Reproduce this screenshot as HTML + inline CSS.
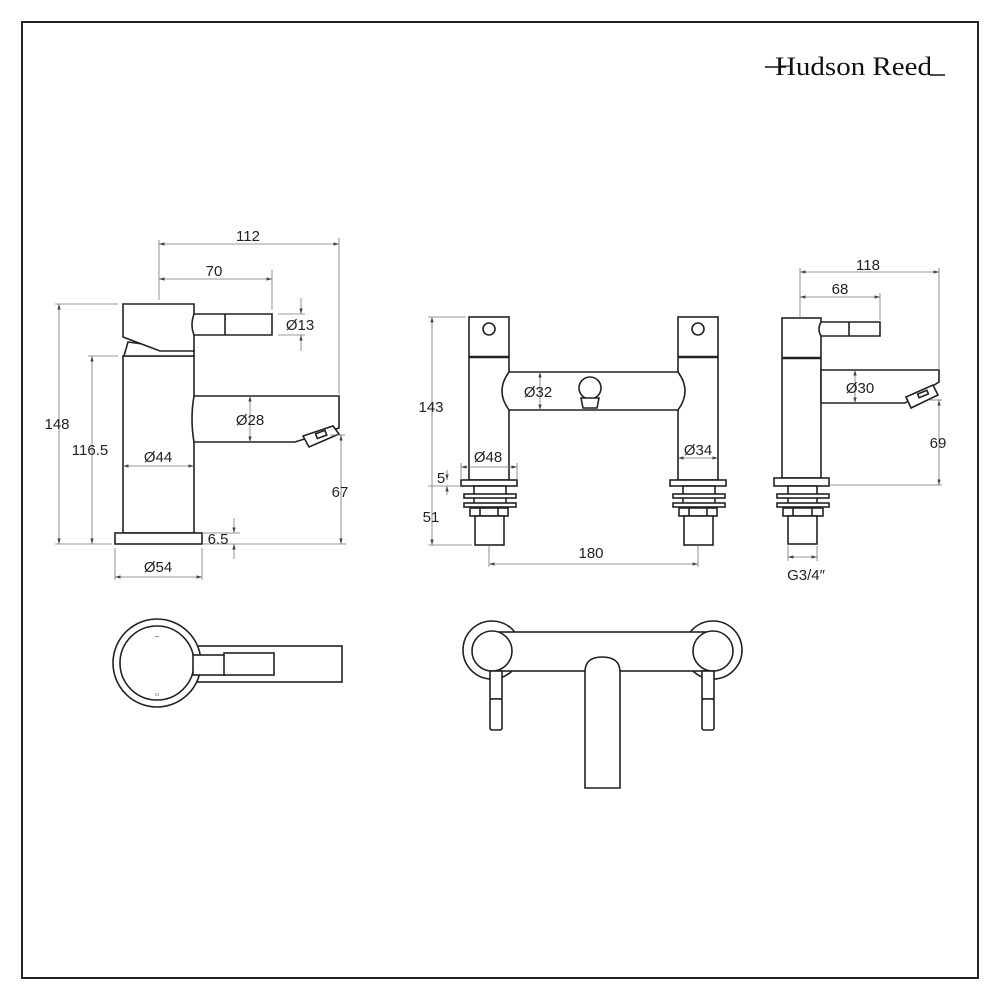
<!DOCTYPE html>
<html><head><meta charset="utf-8"><style>
html,body{margin:0;padding:0;background:#fff}
svg{display:block}
text{font-family:"Liberation Sans",sans-serif;font-size:15px;fill:#222;text-anchor:middle}
.o{fill:#fff;stroke:#222;stroke-width:1.6}
.n{fill:none;stroke:#222;stroke-width:1.6}
.d{fill:none;stroke:#777;stroke-width:0.8}
</style></head><body>
<svg width="1000" height="1000" viewBox="0 0 1000 1000" xmlns="http://www.w3.org/2000/svg">
<defs>
<marker id="m" viewBox="0 0 10 10" refX="10" refY="5" markerWidth="7" markerHeight="7" orient="auto-start-reverse"><path d="M0,2 L10,5 L0,8 z" fill="#444"/></marker>
</defs>
<rect x="22" y="22" width="956" height="956" fill="none" stroke="#222" stroke-width="2"/>
<!-- logo -->
<text x="775" y="75" textLength="157" lengthAdjust="spacingAndGlyphs" style="font-family:'Liberation Serif',serif;font-size:26px;fill:#111;text-anchor:start">Hudson Reed</text>
<line x1="765" y1="67" x2="786" y2="67" stroke="#111" stroke-width="1.5"/>
<line x1="930" y1="75" x2="945" y2="75" stroke="#111" stroke-width="1.5"/>

<!-- LEFT TAP -->
<rect class="o" x="123" y="356" width="71" height="177"/>
<rect class="o" x="115" y="533" width="87" height="11"/>
<path class="o" d="M128,342 L124,356 L194,356 L194,351 Z"/>
<path class="o" d="M123,304 L194,304 L194,351 L160,351 L123,337 Z"/>
<path class="o" d="M194,314 L272,314 L272,335 L194,335 Q190,325 194,314 Z"/>
<line class="n" x1="225" y1="314" x2="225" y2="335"/>
<path class="o" d="M194,396 L339,396 L339,428 L295,442 L194,442 Q190,419 194,396 Z"/>
<path class="o" d="M303,436 L333,426 L339,434 L309,447 Z"/>
<rect class="n" x="316" y="432" width="10" height="5" transform="rotate(-20 321 434)"/>
<!-- dims left -->
<line class="d" x1="159" y1="240" x2="159" y2="300"/>
<line class="d" x1="339" y1="238" x2="339" y2="394"/>
<line class="d" x1="159" y1="244" x2="339" y2="244" marker-start="url(#m)" marker-end="url(#m)"/>
<text x="248" y="241">112</text>
<line class="d" x1="272" y1="270" x2="272" y2="310"/>
<line class="d" x1="159" y1="279" x2="272" y2="279" marker-start="url(#m)" marker-end="url(#m)"/>
<text x="214" y="276">70</text>
<line class="d" x1="278" y1="314" x2="305" y2="314"/>
<line class="d" x1="278" y1="335" x2="305" y2="335"/>
<line class="d" x1="301" y1="298" x2="301" y2="314" marker-end="url(#m)"/>
<line class="d" x1="301" y1="351" x2="301" y2="335" marker-end="url(#m)"/>
<text x="300" y="330">Ø13</text>
<line class="d" x1="55" y1="304" x2="118" y2="304"/>
<line class="d" x1="55" y1="544" x2="112" y2="544"/>
<line class="d" x1="59" y1="304" x2="59" y2="544" marker-start="url(#m)" marker-end="url(#m)"/>
<text x="57" y="429">148</text>
<line class="d" x1="88" y1="356" x2="118" y2="356"/>
<line class="d" x1="92" y1="356" x2="92" y2="544" marker-start="url(#m)" marker-end="url(#m)"/>
<text x="90" y="455">116.5</text>
<line class="d" x1="123" y1="466" x2="194" y2="466" marker-start="url(#m)" marker-end="url(#m)"/>
<text x="158" y="462">Ø44</text>
<line class="d" x1="250" y1="396" x2="250" y2="442" marker-start="url(#m)" marker-end="url(#m)"/>
<text x="250" y="425">Ø28</text>
<line class="d" x1="330" y1="435" x2="345" y2="435"/>
<line class="d" x1="202" y1="544" x2="346" y2="544"/>
<line class="d" x1="341" y1="435" x2="341" y2="544" marker-start="url(#m)" marker-end="url(#m)"/>
<text x="340" y="497">67</text>
<line class="d" x1="202" y1="533" x2="240" y2="533"/>
<line class="d" x1="234" y1="518" x2="234" y2="533" marker-end="url(#m)"/>
<line class="d" x1="234" y1="559" x2="234" y2="544" marker-end="url(#m)"/>
<text x="218" y="544">6.5</text>
<line class="d" x1="115" y1="548" x2="115" y2="580"/>
<line class="d" x1="202" y1="548" x2="202" y2="580"/>
<line class="d" x1="115" y1="577" x2="202" y2="577" marker-start="url(#m)" marker-end="url(#m)"/>
<text x="158" y="572">Ø54</text>

<!-- MIDDLE TAP -->
<g id="pl">
<rect class="o" x="469" y="317" width="40" height="163"/>
<line x1="469" y1="357" x2="509" y2="357" stroke="#222" stroke-width="2.5"/>
<circle class="o" cx="489" cy="329" r="6"/>
<rect class="o" x="461" y="480" width="56" height="6"/>
<rect class="o" x="474" y="486" width="32" height="22"/>
<rect class="o" x="464" y="494" width="52" height="4"/>
<rect class="o" x="464" y="503" width="52" height="4"/>
<rect class="o" x="470" y="508" width="38" height="8"/>
<line class="n" x1="480" y1="508" x2="480" y2="516"/><line class="n" x1="498" y1="508" x2="498" y2="516"/>
<rect class="o" x="475" y="516" width="29" height="29"/>
</g>
<use href="#pl" transform="translate(209,0)"/>
<path class="o" d="M509,372 L678,372 Q692,391 678,410 L509,410 Q495,391 509,372 Z"/>
<circle class="o" cx="590" cy="388" r="11"/>
<path class="o" d="M581,398 L599,398 L597,408 L583,408 Z"/>
<line class="d" x1="428" y1="317" x2="466" y2="317"/>
<line class="d" x1="428" y1="545" x2="472" y2="545"/>
<line class="d" x1="432" y1="317" x2="432" y2="545" marker-start="url(#m)" marker-end="url(#m)"/>
<text x="431" y="412">143</text>
<line class="d" x1="428" y1="486" x2="461" y2="486"/>
<line class="d" x1="447" y1="470" x2="447" y2="480" marker-end="url(#m)"/>
<line class="d" x1="447" y1="495" x2="447" y2="486" marker-end="url(#m)"/>
<text x="441" y="483">5</text>
<text x="431" y="522">51</text>
<line class="d" x1="461" y1="463" x2="461" y2="480"/><line class="d" x1="517" y1="463" x2="517" y2="480"/>
<line class="d" x1="461" y1="467" x2="517" y2="467" marker-start="url(#m)" marker-end="url(#m)"/>
<text x="488" y="462">Ø48</text>
<line class="d" x1="678" y1="458" x2="718" y2="458" marker-start="url(#m)" marker-end="url(#m)"/>
<text x="698" y="455">Ø34</text>
<line class="d" x1="540" y1="372" x2="540" y2="410" marker-start="url(#m)" marker-end="url(#m)"/>
<text x="538" y="397">Ø32</text>
<line class="d" x1="489" y1="545" x2="489" y2="567"/><line class="d" x1="698" y1="545" x2="698" y2="567"/>
<line class="d" x1="489" y1="564" x2="698" y2="564" marker-start="url(#m)" marker-end="url(#m)"/>
<text x="591" y="558">180</text>

<!-- RIGHT TAP -->
<rect class="o" x="782" y="318" width="39" height="160"/>
<line x1="782" y1="358" x2="821" y2="358" stroke="#222" stroke-width="2.5"/>
<path class="o" d="M821,322 L880,322 L880,336 L821,336 Q817,329 821,322 Z"/>
<line class="n" x1="849" y1="322" x2="849" y2="336"/>
<path class="o" d="M821,370 L939,370 L939,382 L905,403 L821,403 Z"/>
<path class="o" d="M906,397 L933,385 L938,395 L911,408 Z"/>
<rect class="n" x="918" y="392" width="10" height="4" transform="rotate(-22 923 394)"/>
<rect class="o" x="774" y="478" width="55" height="8"/>
<rect class="o" x="788" y="486" width="29" height="22"/>
<rect class="o" x="777" y="494" width="52" height="4"/>
<rect class="o" x="777" y="503" width="52" height="4"/>
<rect class="o" x="783" y="508" width="40" height="8"/>
<line class="n" x1="793" y1="508" x2="793" y2="516"/><line class="n" x1="812" y1="508" x2="812" y2="516"/>
<rect class="o" x="788" y="516" width="29" height="28"/>
<line class="d" x1="800" y1="268" x2="800" y2="318"/>
<line class="d" x1="939" y1="268" x2="939" y2="370"/>
<line class="d" x1="800" y1="272" x2="939" y2="272" marker-start="url(#m)" marker-end="url(#m)"/>
<text x="868" y="270">118</text>
<line class="d" x1="880" y1="293" x2="880" y2="320"/>
<line class="d" x1="800" y1="297" x2="880" y2="297" marker-start="url(#m)" marker-end="url(#m)"/>
<text x="840" y="294">68</text>
<line class="d" x1="855" y1="370" x2="855" y2="403" marker-start="url(#m)" marker-end="url(#m)"/>
<text x="860" y="393">Ø30</text>
<line class="d" x1="930" y1="400" x2="942" y2="400"/>
<line class="d" x1="829" y1="485" x2="942" y2="485"/>
<line class="d" x1="939" y1="400" x2="939" y2="485" marker-start="url(#m)" marker-end="url(#m)"/>
<text x="938" y="448">69</text>
<line class="d" x1="788" y1="546" x2="788" y2="561"/><line class="d" x1="817" y1="546" x2="817" y2="561"/>
<line class="d" x1="788" y1="557" x2="817" y2="557" marker-start="url(#m)" marker-end="url(#m)"/>
<text x="806" y="580">G3/4″</text>

<!-- PLAN LEFT -->
<rect class="o" x="190" y="646" width="152" height="36"/>
<circle class="o" cx="157" cy="663" r="44"/>
<circle class="o" cx="157" cy="663" r="37"/>
<rect class="o" x="193" y="655" width="32" height="20"/>
<rect class="o" x="224" y="653" width="50" height="22"/>
<text x="157" y="637" style="font-size:5px">⌴</text>
<text x="157" y="696" style="font-size:5px">▭</text>

<!-- PLAN MIDDLE -->
<circle class="o" cx="492" cy="650" r="29"/>
<circle class="o" cx="713" cy="650" r="29"/>
<rect class="o" x="492" y="632" width="221" height="39"/>
<circle class="o" cx="492" cy="651" r="20"/>
<circle class="o" cx="713" cy="651" r="20"/>
<path class="o" d="M585,788 L585,672 Q585,657 602,657 Q620,657 620,672 L620,788 Z"/>
<rect class="o" x="490" y="671" width="12" height="28"/>
<rect class="o" x="490" y="699" width="12" height="31" rx="2"/>
<rect class="o" x="702" y="671" width="12" height="28"/>
<rect class="o" x="702" y="699" width="12" height="31" rx="2"/>
</svg>
</body></html>
